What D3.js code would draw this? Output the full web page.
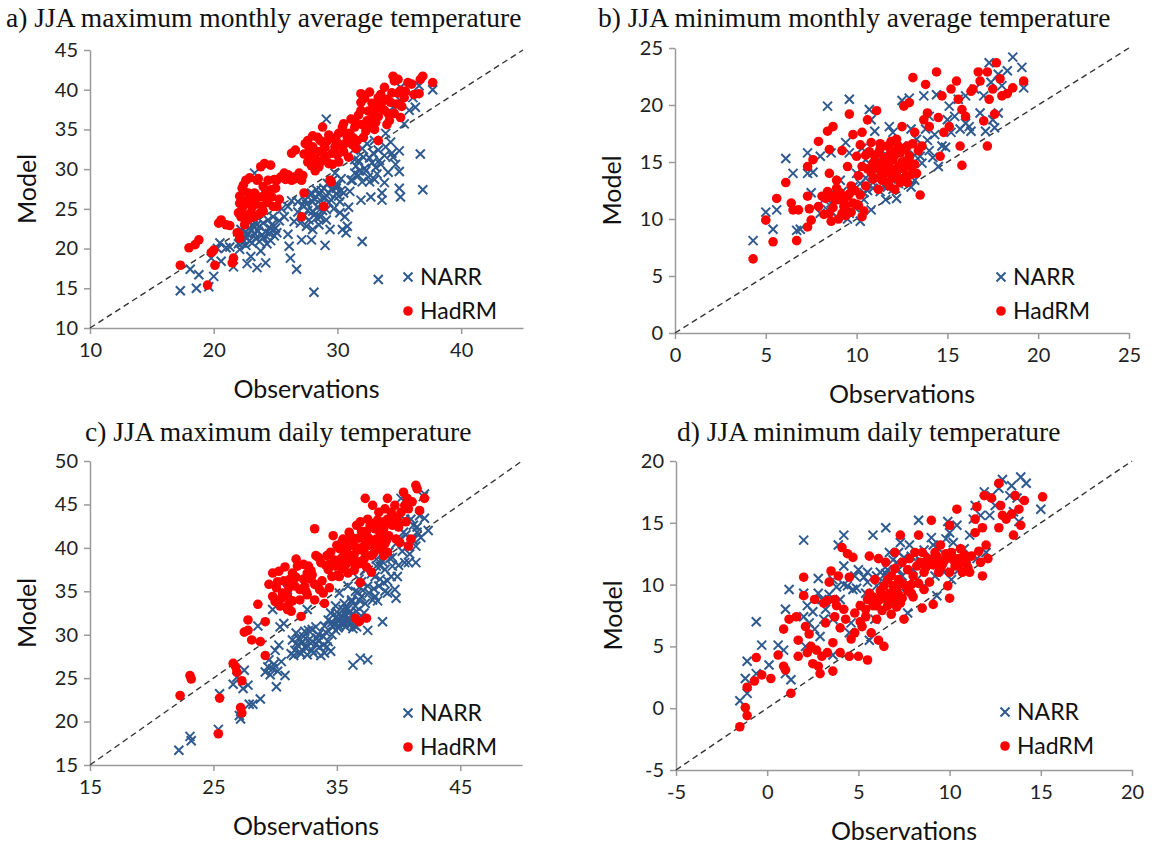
<!DOCTYPE html>
<html>
<head>
<meta charset="utf-8">
<script src="https://cdn.jsdelivr.net/npm/d3@7.9.0/dist/d3.min.js"></script>
<style>
  body { margin: 0; background: #fff; }
  svg { display: block; }
  .tick text { font-family: Lato, "Open Sans", sans-serif; font-size: 20px; fill: #222; }
  .axis path, .axis line { stroke: #9a9a9a; stroke-width: 1.5; }
  .title { font-family: "Liberation Serif", "Times New Roman", serif; font-size: 27.5px; fill: #111; }
  .label { font-family: Lato, "Open Sans", sans-serif; font-size: 25px; fill: #111; }
  .legend { font-family: Lato, "Open Sans", sans-serif; font-size: 23px; fill: #111; }
</style>
</head>
<body>
<svg id="chart" width="1152" height="852"></svg>
<script>
// a) JJA maximum monthly average temperature  [observation, model]
const narrMaxMonthly = [
  [17.3,14.7],[18.1,17.4],[18.6,15.0],[18.8,16.7],[19.6,15.2],[20.0,16.5],[19.8,18.8],[20.3,20.0],[20.5,20.7],[21.0,20.1],
  [21.3,20.2],[20.6,18.4],[21.6,17.7],[22.1,19.9],[22.3,20.7],[22.7,18.1],[23.0,19.0],[23.5,17.6],[23.8,19.7],[24.2,18.2],
  [22.5,22.0],[22.8,21.8],[23.0,22.3],[23.3,21.9],[23.6,22.2],[23.9,21.7],[24.2,22.1],[24.5,21.9],[22.9,22.6],[23.7,22.8],
  [24.0,23.2],[24.4,23.6],[24.8,24.0],[25.0,22.6],[22.6,21.4],[23.3,29.5],[22.4,27.0],[25.1,22.0],[25.7,24.0],[26.0,25.3],
  [26.1,20.3],[26.2,18.8],[26.0,21.8],[26.7,17.4],[27.1,21.1],[27.4,26.1],[28.0,22.4],[28.1,14.5],[27.9,21.1],[28.3,27.4],
  [28.6,26.1],[29.1,36.3],[29.0,20.4],[29.4,22.4],[29.2,28.2],[29.8,29.5],[30.2,24.5],[30.4,22.4],[30.7,22.0],[30.8,22.8],
  [30.5,27.0],[31.0,27.2],[31.4,29.5],[31.3,32.4],[31.9,26.1],[32.0,20.9],[32.1,31.5],[32.7,26.5],[33.3,16.1],[33.6,27.0],
  [33.8,28.3],[33.6,26.1],[33.3,32.4],[33.9,32.8],[34.4,32.0],[34.5,31.5],[35.0,29.7],[35.0,27.6],[35.1,26.5],[36.7,31.9],
  [36.9,27.4],[34.5,37.8],[35.1,38.6],[35.4,35.7],[35.8,37.4],[36.1,39.0],[36.3,37.8],[36.6,40.5],[37.7,40.0],[35.1,40.3],
  [33.9,34.5],[33.0,33.6],[32.4,33.2],[31.7,31.1],[27.2,25.5],[27.6,24.8],[27.8,26.8],[28.0,25.9],[28.2,24.3],[28.4,25.2],
  [28.5,23.0],[28.7,27.3],[28.8,24.8],[29.0,26.4],[29.1,23.6],[29.3,25.8],[29.5,27.5],[29.6,28.6],[29.9,26.9],[30.0,28.0],
  [30.2,25.9],[30.3,28.8],[30.6,24.0],[30.9,25.2],[31.2,28.6],[31.5,30.4],[31.8,29.8],[32.2,30.1],[32.5,29.0],[32.8,30.8],
  [33.1,30.2],[33.4,31.1],[32.6,28.4],[26.5,23.4],[26.8,24.6],[25.5,25.0],[25.3,23.5],[24.6,21.0],[26.3,26.0],[27.5,22.8],
  [22.0,20.6],[22.3,21.2],[22.6,20.4],[22.9,21.0],[23.1,20.7],[23.4,21.3],[23.7,20.9],[24.0,21.4],[24.3,20.6],[24.6,22.5],
  [24.9,21.6],[22.2,22.4],[23.5,23.0],[24.7,23.0],[23.2,22.9],[26.8,25.9],[27.0,23.2],[27.3,24.1],[27.5,25.6],[27.7,23.6],
  [27.9,27.0],[28.1,26.3],[28.3,23.9],[28.5,26.8],[28.7,25.5],[28.9,27.6],[29.1,24.9],[29.3,27.0],[29.5,26.1],[29.7,25.0],
  [29.9,27.6],[30.1,26.6],[30.3,27.3],[28.0,24.7],[28.6,24.0],[31.1,28.6],[31.4,31.2],[31.7,29.2],[32.0,32.6],[32.3,29.8],
  [32.6,31.4],[32.9,32.0],[33.2,29.4],[33.5,30.6],[33.8,31.7],[34.1,29.6],[34.3,33.4],[34.7,30.6],[35.0,32.3],[33.0,28.7],
  [32.0,28.4]
];
const hadMaxMonthly = [
  [17.3,17.9],[18.0,20.1],[18.5,20.5],[18.8,21.1],[19.8,19.5],[20.0,19.8],[20.1,17.9],[19.5,15.4],[20.4,23.2],[20.6,23.6],
  [21.0,23.0],[21.3,22.9],[21.5,18.2],[21.6,18.8],[22.0,21.9],[22.1,21.3],[22.0,24.5],[22.1,25.7],[22.3,27.6],[22.4,28.0],
  [22.1,26.6],[22.7,26.1],[23.0,24.5],[23.3,27.0],[23.5,28.6],[23.8,30.3],[24.1,30.7],[24.6,30.5],[23.3,24.0],[22.7,23.6],
  [23.9,25.3],[24.2,27.0],[24.6,27.4],[24.8,25.3],[25.1,25.3],[24.4,28.6],[25.1,28.6],[25.7,29.5],[26.3,28.6],[26.3,32.0],
  [26.6,32.4],[26.9,29.5],[27.1,28.6],[27.3,27.0],[27.1,24.0],[27.4,33.2],[27.7,32.8],[28.0,34.2],[27.9,31.5],[28.3,31.1],
  [28.6,32.2],[28.8,35.3],[28.9,25.3],[28.5,30.3],[29.2,33.6],[29.4,28.6],[29.5,28.4],[29.6,32.0],[29.8,32.8],[30.1,34.5],
  [30.4,35.3],[30.5,35.7],[30.1,30.9],[31.0,34.5],[31.1,36.3],[31.4,35.3],[31.9,37.4],[31.9,39.5],[31.9,38.4],[32.4,36.1],
  [32.6,39.7],[32.7,35.3],[32.9,37.4],[33.3,33.6],[33.3,39.0],[33.6,38.4],[33.8,40.3],[34.1,37.0],[34.2,36.1],[34.5,41.7],
  [34.6,41.1],[34.9,41.3],[35.1,36.5],[35.1,39.9],[35.7,40.9],[36.0,40.7],[36.6,39.5],[36.9,41.7],[36.7,41.3],[37.7,40.9],
  [35.4,39.0],[32.1,34.0],[31.6,33.6],[28.6,33.6],[28.0,32.8],[27.7,32.2],[22.9,28.9],[23.6,28.8],[24.9,28.7],[25.4,29.0],
  [26.0,29.3],[26.6,28.8],[27.6,30.9],[28.2,29.8],[28.9,31.2],[29.3,30.7],[29.9,33.6],[30.6,33.2],[30.8,34.0],[31.3,33.9],
  [31.5,35.8],[32.3,34.8],[32.8,36.3],[33.1,35.9],[33.5,37.7],[34.0,38.8],[34.4,39.6],[34.8,38.2],[35.5,39.8],[36.2,39.4],
  [22.3,25.0],[22.6,24.2],[23.0,26.2],[23.4,25.6],[23.8,26.5],[24.0,24.7],[21.9,22.0],[22.5,23.0],[22.9,23.8],[24.4,26.2],
  [27.3,31.9],[27.6,33.6],[27.9,30.4],[28.1,32.4],[28.4,34.0],[28.7,31.0],[28.9,33.2],[29.1,31.6],[29.3,34.3],[29.6,30.6],
  [29.8,33.9],[30.0,31.8],[30.2,33.0],[30.5,32.2],[30.7,34.5],[30.9,31.5],[31.2,33.1],[31.5,32.6],[29.0,32.7],[28.2,31.3],
  [31.7,36.8],[32.0,35.6],[32.2,38.9],[32.5,37.3],[32.8,38.3],[33.0,35.0],[33.3,36.6],[33.5,39.4],[33.8,37.4],[34.0,35.6],
  [34.3,38.4],[34.6,37.0],[34.9,39.6],[35.2,37.9],[33.1,38.0],[22.2,24.0],[22.5,25.6],[22.8,27.0],[23.1,25.2],[23.4,26.4],
  [23.7,24.4],[24.0,27.8],[24.3,25.8],[24.7,26.5],[25.0,27.6],[25.3,26.2],[22.6,28.6],[25.8,28.7],[26.1,28.9],[26.5,29.0],
  [26.9,28.8],[27.2,29.2]
];

// b) JJA minimum monthly average temperature
const narrMinMonthly = [
  [4.3,8.1],[5.0,10.6],[5.4,9.1],[5.6,10.8],[6.1,15.3],[6.5,14.0],[6.7,9.0],[6.9,9.1],[7.3,15.8],[7.3,14.0],
  [7.6,14.1],[7.5,12.3],[8.4,19.9],[8.4,10.8],[8.2,11.7],[8.6,15.8],[8.0,15.5],[9.6,20.5],[9.4,16.7],[9.6,15.8],
  [10.0,14.0],[9.6,10.5],[10.2,9.8],[10.4,11.7],[10.8,10.8],[10.7,19.6],[10.8,18.7],[11.0,17.7],[11.2,14.0],[11.5,12.9],
  [11.6,11.7],[12.2,11.8],[11.8,18.1],[12.0,17.6],[12.1,16.1],[12.4,14.6],[12.6,14.0],[12.5,20.4],[12.9,20.6],[13.0,17.9],
  [13.2,13.4],[13.3,17.0],[13.7,20.8],[13.8,17.9],[14.0,19.0],[14.0,16.0],[14.4,20.9],[14.5,14.6],[14.7,16.4],[15.0,18.7],
  [15.1,19.9],[15.2,17.6],[15.6,20.5],[15.7,17.9],[16.0,20.8],[16.2,18.1],[16.3,17.7],[16.5,21.4],[16.8,19.3],[17.0,20.8],
  [17.1,17.7],[17.3,23.7],[17.4,22.0],[17.6,18.0],[17.8,19.3],[17.8,22.7],[18.0,21.7],[18.3,23.0],[18.6,24.2],[19.1,23.3],
  [19.2,21.5],[17.5,18.7],[16.0,18.4],[10.9,13.2],[11.3,12.4],[11.7,13.8],[12.0,12.6],[12.3,13.1],[12.7,15.2],[11.1,15.0],
  [10.5,13.6],[9.8,12.8],[9.1,13.4],[8.8,12.2],[10.6,12.5],[13.5,15.5],[13.9,16.9],[14.3,17.4],[14.9,16.3],[15.4,19.0],
  [10.2,13.1],[10.5,15.2],[10.9,12.7],[11.2,13.6],[11.4,16.0],[11.7,12.8],[12.0,14.3],[12.3,15.9],[12.6,13.2],[12.9,14.8],
  [13.2,15.6],[10.3,16.2],[11.0,14.4],[11.9,13.5],[12.5,16.4],[8.0,10.5],[8.6,11.4],[9.2,12.4],[9.5,10.0],[9.9,11.0],
  [10.4,12.3],[8.9,10.2],[13.6,14.9],[14.2,15.4],[13.0,12.8]
];
const hadMinMonthly = [
  [4.3,6.5],[5.0,9.9],[5.4,8.0],[5.6,11.8],[6.1,13.2],[6.4,11.4],[6.5,10.8],[6.7,8.1],[6.8,10.8],[7.3,12.0],
  [7.3,9.3],[7.4,10.9],[7.5,9.9],[7.3,14.6],[7.6,15.2],[7.9,16.8],[8.1,12.0],[8.4,17.7],[8.5,16.1],[8.5,14.0],
  [8.5,10.5],[8.6,9.8],[8.7,12.0],[8.7,18.1],[8.9,13.4],[9.1,12.3],[9.2,16.0],[9.2,10.5],[9.3,11.7],[9.5,14.6],
  [9.6,19.2],[9.7,12.9],[9.8,11.4],[9.8,17.4],[10.0,15.5],[10.2,16.5],[10.3,10.2],[10.3,17.6],[10.6,18.7],[10.8,16.7],
  [10.9,14.9],[11.1,19.5],[11.2,15.8],[11.3,14.3],[11.4,13.4],[11.5,15.2],[11.6,14.5],[11.7,16.4],[11.8,12.9],[11.9,14.0],
  [12.0,15.2],[12.1,12.6],[12.2,17.0],[12.3,14.6],[12.4,15.8],[12.5,18.1],[12.6,19.9],[12.7,13.7],[12.8,16.4],[12.9,20.2],
  [13.0,14.6],[13.1,22.4],[13.2,17.6],[13.3,14.0],[13.5,12.1],[13.6,16.4],[13.7,18.7],[13.8,21.8],[13.9,19.3],[14.0,18.1],
  [14.4,22.9],[14.5,18.9],[14.6,15.5],[14.7,20.8],[14.8,17.6],[15.1,18.1],[15.2,21.4],[15.5,22.1],[15.6,20.5],[15.7,16.4],
  [15.8,14.7],[15.8,19.6],[16.0,19.0],[16.3,21.2],[16.4,21.4],[16.7,22.9],[16.8,22.1],[17.0,18.6],[17.2,16.4],[17.2,22.9],
  [17.3,20.5],[17.5,21.4],[17.6,19.2],[17.7,23.7],[17.9,22.3],[18.0,20.8],[18.3,21.0],[18.6,21.5],[19.2,22.1],[10.6,14.4],
  [11.0,14.8],[11.4,14.0],[11.8,15.6],[12.2,14.3],[12.6,15.0],[11.0,13.6],[11.6,15.4],[12.4,13.2],[10.5,15.6],[11.9,16.8],
  [9.4,11.2],[9.0,11.7],[9.6,12.2],[10.0,11.3],[8.3,11.8],[10.2,12.1],[11.3,16.2],[12.9,15.5],[13.4,16.0],[12.0,13.6],
  [10.1,13.8],[10.3,14.6],[10.5,12.9],[10.7,15.9],[10.9,13.5],[11.0,15.5],[11.2,12.6],[11.3,16.6],[11.5,13.9],[11.6,15.0],
  [11.8,14.6],[11.9,16.0],[12.0,13.8],[12.1,15.6],[12.2,14.1],[12.3,16.4],[12.4,13.5],[12.5,15.0],[12.6,14.4],[12.7,16.1],
  [12.8,13.2],[12.9,15.4],[13.0,13.9],[13.1,16.6],[13.2,14.8],[11.4,14.4],[11.7,13.2],[12.0,16.8],[10.8,14.1],[11.1,14.8],
  [7.9,11.1],[8.2,10.4],[8.4,12.4],[8.7,11.0],[8.9,12.7],[9.0,10.0],[9.3,11.1],[9.5,12.0],[9.7,10.6],[9.9,12.5],
  [10.1,11.2],[10.4,10.7],[9.4,10.3],[8.8,11.7]
];

// c) JJA maximum daily temperature
const narrMaxDaily = [
  [22.2,16.7],[23.1,18.3],[23.2,17.8],[25.4,19.1],[25.5,23.2],[26.6,24.3],[26.9,25.1],[27.5,25.9],[27.1,20.7],[27.2,20.3],
  [27.4,23.8],[27.8,24.2],[27.9,22.0],[28.2,22.0],[28.8,22.6],[28.6,31.0],[29.2,25.7],[29.4,26.3],[29.5,27.1],[29.8,26.1],
  [30.0,28.2],[30.1,24.0],[30.3,28.8],[29.8,32.9],[30.4,30.9],[30.7,31.3],[31.0,35.2],[31.3,27.8],[31.4,29.4],[31.6,28.2],
  [31.7,30.2],[31.8,28.8],[32.1,27.8],[32.3,29.8],[32.4,28.6],[32.6,32.9],[32.7,30.5],[33.0,28.2],[33.3,30.9],[33.6,28.6],
  [33.9,29.8],[34.2,28.6],[34.3,31.7],[34.5,32.5],[34.7,30.9],[34.9,33.3],[35.0,32.1],[35.2,34.8],[35.3,31.3],[35.5,32.9],
  [35.6,33.6],[35.8,31.7],[35.9,35.6],[36.0,32.5],[36.2,34.0],[36.3,26.5],[36.5,33.3],[36.6,30.9],[36.8,36.4],[36.9,27.3],
  [37.0,34.4],[37.2,32.5],[37.3,37.5],[37.5,27.1],[37.5,30.5],[37.6,34.8],[37.9,34.0],[38.1,36.7],[38.2,38.7],[38.4,35.6],
  [38.5,37.9],[38.7,31.5],[38.8,36.0],[38.9,37.5],[39.1,34.8],[39.2,39.5],[39.4,36.7],[39.5,37.9],[39.7,35.2],[39.8,34.2],
  [39.9,36.7],[40.2,45.7],[40.4,41.8],[40.5,38.3],[40.7,40.2],[40.8,38.3],[41.0,43.3],[41.1,41.0],[41.2,42.6],[41.4,40.2],
  [41.5,41.8],[41.7,43.7],[42.0,45.9],[42.1,46.2],[41.4,38.3],[40.5,43.3],[38.2,37.9],[34.6,31.4],[35.1,30.8],[35.4,31.9],
  [35.7,32.3],[36.1,31.2],[36.4,32.0],[34.0,31.0],[33.5,29.3],[32.9,29.0],[32.2,29.2],[31.9,29.6],[35.9,33.0],[36.7,34.9],
  [32.0,28.0],[32.2,29.1],[32.4,30.4],[32.6,27.7],[32.8,29.5],[33.0,30.6],[33.1,27.9],[33.3,28.9],[33.5,30.0],[33.7,27.6],
  [33.9,28.8],[34.1,30.3],[34.3,29.2],[34.5,28.1],[34.6,30.0],[32.5,28.5],[33.4,29.6],[31.7,29.0],[31.5,27.6],[34.0,27.9],
  [34.8,31.2],[35.0,32.6],[35.2,31.0],[35.4,32.2],[35.6,31.3],[35.8,32.9],[36.0,31.6],[36.2,32.3],[36.4,31.1],[36.6,32.7],
  [36.8,31.8],[35.1,31.8],[35.7,30.9],[36.3,30.7],[34.9,30.5],[36.2,33.8],[36.5,35.0],[36.8,34.0],[37.0,36.1],[37.3,33.6],
  [37.5,35.6],[37.8,37.0],[38.0,35.3],[38.3,33.9],[38.5,36.4],[38.7,38.4],[38.9,35.0],[39.1,36.2],[39.3,38.8],[37.1,35.1],
  [38.1,34.4],[39.5,38.9],[39.8,40.5],[40.0,38.0],[40.3,39.6],[40.6,41.5],[40.9,39.3],[41.2,40.9],[41.5,42.4],[41.8,41.2],
  [42.1,43.4],[42.4,42.0],[40.1,41.0],[29.6,25.4],[29.9,26.6],[30.2,25.8],[30.5,26.9],[30.8,25.3]
];
const hadMaxDaily = [
  [22.3,23.0],[23.1,25.3],[23.2,24.9],[25.4,18.6],[25.5,22.7],[26.6,26.7],[26.8,26.3],[26.9,25.7],[27.3,24.7],[27.2,21.6],
  [27.3,21.0],[27.5,30.3],[27.8,31.7],[27.8,30.5],[28.1,29.4],[28.6,33.5],[28.8,29.2],[29.2,31.5],[29.2,27.6],[29.5,35.8],
  [29.8,37.1],[29.8,34.4],[30.0,33.8],[30.1,35.4],[30.3,37.3],[30.4,33.3],[30.7,36.2],[31.0,34.4],[31.1,33.5],[31.3,32.7],
  [31.4,37.1],[31.6,35.6],[31.7,38.7],[31.8,37.9],[32.0,34.0],[32.1,32.1],[32.3,36.4],[32.4,35.6],[32.6,37.1],[32.7,37.9],
  [32.9,36.4],[33.2,42.2],[33.2,34.0],[33.3,39.1],[33.6,35.2],[33.9,34.8],[34.0,33.6],[34.2,39.1],[34.3,37.5],[34.5,39.5],
  [34.6,36.7],[34.7,41.4],[34.9,37.9],[35.0,40.3],[35.2,36.7],[35.3,38.7],[35.5,41.0],[35.6,37.9],[35.8,39.8],[35.9,37.1],
  [36.0,41.8],[36.2,38.7],[36.3,40.3],[36.5,37.9],[36.5,31.9],[36.6,42.6],[36.8,39.8],[36.8,31.5],[36.9,36.0],[37.1,41.4],
  [37.2,38.7],[37.3,45.7],[37.4,31.9],[37.5,43.3],[37.6,40.3],[37.8,39.1],[37.9,44.9],[38.1,42.2],[38.2,41.0],[38.4,44.1],
  [38.5,42.9],[38.6,39.8],[38.8,42.2],[38.9,44.5],[39.1,45.7],[39.1,43.3],[39.2,41.4],[39.4,44.1],[39.5,42.6],[39.7,44.9],
  [39.8,41.0],[39.9,43.3],[40.1,40.6],[40.2,44.1],[40.4,46.4],[40.5,44.9],[40.7,45.7],[40.8,40.2],[40.8,44.5],[41.0,41.0],
  [41.1,45.3],[41.4,47.2],[41.5,46.8],[41.7,44.3],[42.1,45.7],[39.1,39.5],[38.8,39.1],[35.4,40.6],[36.1,40.9],[36.7,41.1],
  [37.0,40.0],[37.4,41.9],[37.7,42.6],[38.0,40.6],[38.3,43.2],[36.4,39.2],[35.1,38.5],[34.4,38.1],[33.7,38.3],[30.6,34.8],
  [31.2,36.4],[32.5,35.0],[33.0,36.9],[35.7,40.0],[36.9,38.2],[39.6,43.6],[40.0,42.4],[40.6,43.0],[38.9,40.5],[37.8,37.2],
  [34.8,38.6],[35.0,36.8],[35.2,39.9],[35.4,37.6],[35.6,40.4],[35.8,38.2],[36.0,39.1],[36.2,41.2],[36.4,37.4],[36.6,40.0],
  [36.8,38.4],[37.0,41.9],[37.2,39.6],[37.4,37.8],[37.6,41.1],[37.8,42.8],[38.0,39.4],[38.2,40.2],[38.4,42.0],[38.6,41.4],
  [38.8,43.0],[39.0,40.8],[39.2,42.9],[35.5,39.0],[36.3,38.9],[37.3,40.6],[38.5,40.6],[36.9,43.0],[30.2,36.1],[30.5,34.2],
  [30.8,37.8],[31.1,35.4],[31.4,33.9],[31.7,36.6],[32.0,35.2],[32.3,38.1],[32.6,34.6],[32.9,37.4],[33.2,35.8],[33.5,38.9],
  [33.8,36.2],[34.1,38.0],[34.4,35.4],[31.0,32.9]
];

// d) JJA minimum daily temperature
const narrMinDaily = [
  [-1.5,0.6],[-1.2,2.4],[-1.1,3.8],[-1.1,1.2],[-0.6,2.8],[-0.6,7.0],[-0.3,5.1],[0.1,3.5],[0.6,5.1],[0.9,4.7],
  [1.0,8.0],[1.0,2.8],[1.2,9.6],[1.3,2.3],[2.0,7.4],[2.0,13.6],[2.0,9.3],[2.1,5.0],[2.2,8.3],[2.3,6.9],
  [2.6,6.4],[2.8,9.3],[2.8,10.5],[2.9,5.8],[3.1,7.2],[3.2,8.0],[3.4,9.2],[3.6,10.4],[3.6,7.2],[3.6,4.3],
  [3.9,13.2],[4.0,8.8],[4.2,14.0],[4.2,11.5],[4.4,9.9],[4.5,6.1],[4.6,6.9],[4.8,10.7],[5.0,11.2],[5.2,8.3],
  [5.4,9.3],[5.5,11.0],[5.6,5.5],[5.7,8.3],[5.8,14.0],[5.9,7.2],[6.0,9.9],[6.2,11.0],[6.3,8.8],[6.5,14.6],
  [6.6,11.2],[6.7,12.6],[6.8,8.3],[7.0,9.9],[7.1,11.8],[7.2,12.6],[7.3,13.4],[7.4,10.7],[7.6,9.3],[7.7,7.7],
  [7.8,13.2],[8.0,11.2],[8.2,10.4],[8.3,15.2],[8.4,11.8],[8.6,9.9],[8.8,12.1],[9.0,13.8],[9.1,13.2],[9.2,10.7],
  [9.3,9.1],[9.5,11.5],[9.6,12.1],[9.8,13.7],[9.9,15.1],[10.0,14.2],[10.1,10.4],[10.2,12.6],[10.4,14.8],[10.5,11.2],
  [10.7,11.8],[10.9,11.5],[11.1,14.0],[11.3,15.3],[11.4,16.4],[11.5,12.1],[11.7,15.6],[11.9,17.5],[12.0,12.6],[12.2,15.6],
  [12.3,17.2],[12.5,16.4],[12.7,17.8],[12.9,18.5],[13.3,17.2],[13.4,18.0],[13.5,15.9],[13.8,15.1],[13.9,18.7],[14.2,18.2],
  [15.0,16.1],[13.7,17.0],[6.9,12.0],[7.5,12.2],[8.1,12.4],[8.9,11.6],[9.7,11.0],[6.4,10.2],[5.3,10.6],[4.7,9.6],
  [5.5,10.2],[6.0,10.7],[6.5,10.9],[7.2,11.2],[7.9,12.3],[8.6,12.8],[9.4,12.9],[10.2,13.4],[10.8,12.9],[4.9,9.7],
  [4.2,10.0],[3.8,9.8],[3.0,8.8],[2.5,7.8]
];
const hadMinDaily = [
  [-1.5,-1.5],[-1.2,0.05],[-1.1,-0.6],[-1.1,1.7],[-0.6,4.1],[-0.7,2.2],[-0.3,2.7],[0.2,2.4],[0.6,4.3],[0.9,6.4],
  [0.9,3.4],[1.0,3.1],[1.2,7.2],[1.3,1.2],[1.6,7.4],[1.7,5.5],[1.7,4.2],[2.0,10.6],[2.0,9.1],[2.1,6.6],
  [2.2,4.5],[2.4,5.0],[2.5,3.6],[2.6,8.8],[2.7,4.7],[2.8,3.4],[2.9,2.8],[3.0,4.2],[3.2,6.9],[3.3,8.7],
  [3.4,10.2],[3.5,11.1],[3.6,5.3],[3.7,8.8],[3.6,3.0],[3.7,7.4],[3.8,8.3],[3.9,10.7],[4.0,4.5],[4.0,6.5],
  [4.1,13.0],[4.2,8.0],[4.3,7.2],[4.4,12.5],[4.5,10.6],[4.5,4.2],[4.7,12.2],[4.8,6.1],[5.0,4.2],[5.1,8.3],
  [5.2,6.6],[5.4,7.4],[5.5,3.9],[5.6,12.3],[5.6,9.3],[5.7,6.1],[5.8,8.3],[5.9,10.4],[6.0,7.2],[6.1,12.1],
  [6.1,5.5],[6.2,8.8],[6.3,7.9],[6.4,9.9],[6.4,5.0],[6.5,11.8],[6.6,8.3],[6.7,9.3],[6.8,10.7],[6.9,8.8],
  [7.0,12.6],[7.1,9.6],[7.2,10.4],[7.3,14.0],[7.3,8.5],[7.4,11.8],[7.5,7.2],[7.6,9.9],[7.7,11.2],[7.8,12.1],
  [7.9,9.3],[8.0,10.7],[8.1,12.6],[8.3,14.0],[8.4,11.8],[8.5,8.1],[8.6,11.0],[8.8,12.1],[8.9,10.2],[9.0,15.2],
  [9.1,11.6],[9.1,8.4],[9.3,12.3],[9.4,11.0],[9.5,13.2],[9.6,11.6],[9.8,12.1],[9.9,9.9],[10.0,11.0],[10.0,8.9],
  [10.0,14.8],[10.1,12.6],[10.3,11.5],[10.4,16.1],[10.5,12.1],[10.6,12.9],[10.7,11.0],[10.9,11.8],[11.1,11.0],[11.2,12.3],
  [11.4,14.2],[11.4,15.3],[11.5,16.3],[11.6,12.7],[11.7,11.8],[11.8,10.7],[11.8,14.6],[11.9,17.2],[12.0,13.2],[12.1,12.1],
  [12.3,17.0],[12.7,18.2],[12.8,16.4],[12.7,14.6],[12.9,15.6],[13.1,15.3],[13.4,15.7],[13.5,14.0],[13.6,17.2],[13.8,16.1],
  [13.9,14.8],[14.1,16.8],[15.1,17.1],[6.2,9.5],[6.6,9.0],[7.0,9.6],[7.4,8.9],[8.2,11.5],[8.7,11.4],[9.2,11.9],
  [5.4,8.0],[5.9,8.6],[6.8,7.6],[7.2,9.2],[5.1,7.0],[4.8,7.7],[3.1,8.5],[2.3,6.0],[3.3,4.5],[4.6,5.6],
  [6.3,9.2],[6.6,10.4],[6.9,9.9],[7.1,8.2],[7.4,10.1],[7.7,9.5],[8.0,9.0],[8.3,10.1],[8.6,9.6],[8.9,11.9],
  [9.2,12.6],[9.5,11.3],[9.8,12.5],[10.2,12.0],[10.5,11.6],[5.8,9.0],[5.5,8.8],[6.0,8.3],[7.0,11.3],[7.9,10.0],
  [8.5,12.6],[9.7,11.9],[10.8,12.4],[11.0,11.4]
];

// tick values for each panel
const ticksA = { x: [10, 20, 30, 40], y: [10, 15, 20, 25, 30, 35, 40, 45] };
const ticksB = { x: [0, 5, 10, 15, 20, 25], y: [0, 5, 10, 15, 20, 25] };
const ticksC = { x: [15, 25, 35, 45], y: [15, 20, 25, 30, 35, 40, 45, 50] };
const ticksD = { x: [-5, 0, 5, 10, 15, 20], y: [-5, 0, 5, 10, 15, 20] };

const panels = [
  { title: "a) JJA maximum monthly average temperature", titleX: 6, titleY: 27,
    domain: [10, 45], xr: [90, 523], yr: [328, 50], ticks: ticksA,
    narr: narrMaxMonthly, had: hadMaxMonthly, legX: 408, legY: 277 },
  { title: "b) JJA minimum monthly average temperature", titleX: 598, titleY: 27,
    domain: [0, 25], xr: [675, 1129], yr: [333, 48], ticks: ticksB,
    narr: narrMinMonthly, had: hadMinMonthly, legX: 1001, legY: 277 },
  { title: "c) JJA maximum daily temperature", titleX: 85, titleY: 441,
    domain: [15, 50], xr: [90, 522], yr: [765, 461], ticks: ticksC,
    narr: narrMaxDaily, had: hadMaxDaily, legX: 408, legY: 713 },
  { title: "d) JJA minimum daily temperature", titleX: 677, titleY: 441,
    domain: [-5, 20], xr: [676, 1132], yr: [770, 461], ticks: ticksD,
    narr: narrMinDaily, had: hadMinDaily, legX: 1005, legY: 712 }
];

const svg = d3.select('#chart');
const cross = 'M-4.5,-4.5L4.5,4.5M-4.5,4.5L4.5,-4.5';
const fmt = (d) => String(d);  // plain hyphen for negatives, as in the original

panels.forEach((p) => {
  let x = d3.scaleLinear().domain(p.domain).range(p.xr);
  let y = d3.scaleLinear().domain(p.domain).range(p.yr);
  let g = svg.append('g');

  g.append('text').attr('class', 'title')
    .attr('x', p.titleX).attr('y', p.titleY).text(p.title);

  g.append('g').attr('class', 'axis')
    .attr('transform', `translate(0,${p.yr[0]})`)
    .call(d3.axisBottom(x).tickValues(p.ticks.x).tickFormat(fmt).tickSize(6).tickSizeOuter(0).tickPadding(9));
  g.append('g').attr('class', 'axis')
    .attr('transform', `translate(${p.xr[0]},0)`)
    .call(d3.axisLeft(y).tickValues(p.ticks.y).tickFormat(fmt).tickSize(6).tickSizeOuter(0).tickPadding(6));

  // 1:1 line
  g.append('line')
    .attr('x1', x(p.domain[0])).attr('y1', y(p.domain[0]))
    .attr('x2', x(p.domain[1])).attr('y2', y(p.domain[1]))
    .attr('stroke', '#333').attr('stroke-width', 1.4).attr('stroke-dasharray', '6,4');

  g.append('g').selectAll('path').data(p.narr).join('path')
    .attr('d', cross)
    .attr('transform', (d) => `translate(${x(d[0])},${y(d[1])})`)
    .attr('stroke', '#2F5A8F').attr('stroke-width', 2).attr('fill', 'none');

  g.append('g').selectAll('circle').data(p.had).join('circle')
    .attr('cx', (d) => x(d[0])).attr('cy', (d) => y(d[1])).attr('r', 4.8)
    .attr('fill', '#FF0000');

  // axis titles
  g.append('text').attr('class', 'label')
    .attr('text-anchor', 'middle')
    .attr('x', (p.xr[0] + p.xr[1]) / 2).attr('y', p.yr[0] + 70)
    .text('Observations');
  g.append('text').attr('class', 'label')
    .attr('text-anchor', 'middle')
    .attr('transform', `translate(${p.xr[0] - 54},${(p.yr[0] + p.yr[1]) / 2}) rotate(-90)`)
    .text('Model');

  // legend
  g.append('path').attr('d', cross)
    .attr('transform', `translate(${p.legX},${p.legY})`)
    .attr('stroke', '#2F5A8F').attr('stroke-width', 2);
  g.append('text').attr('class', 'legend')
    .attr('x', p.legX + 12).attr('y', p.legY + 8).text('NARR');
  g.append('circle').attr('cx', p.legX).attr('cy', p.legY + 34).attr('r', 4.8).attr('fill', '#FF0000');
  g.append('text').attr('class', 'legend')
    .attr('x', p.legX + 12).attr('y', p.legY + 42).text('HadRM');
});
</script>
</body>
</html>
